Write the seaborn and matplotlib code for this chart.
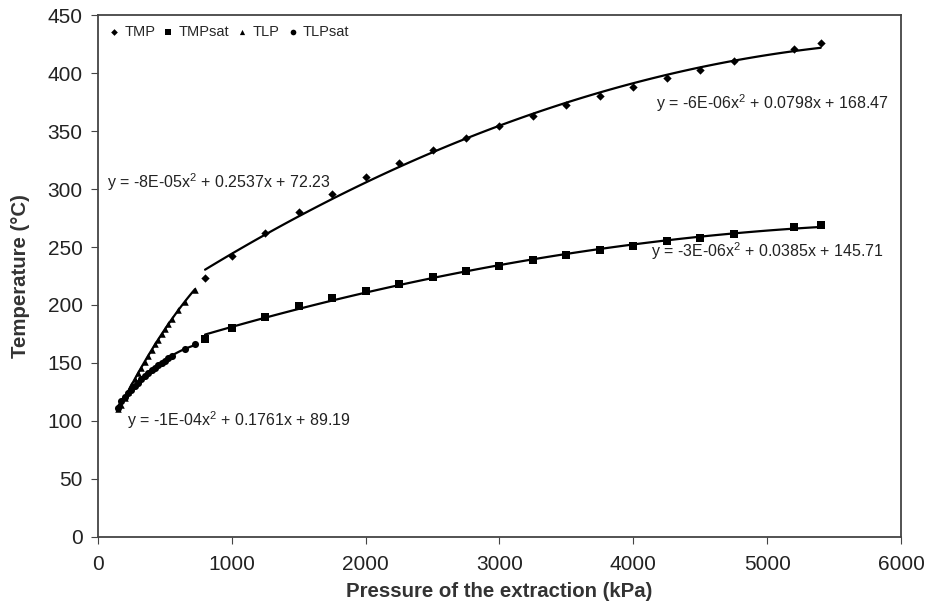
import numpy as np
import pandas as pd
import seaborn as sns
import matplotlib.pyplot as plt

# Data
tmp_p = [800, 1000, 1250, 1500, 1750, 2000, 2250, 2500, 2750, 3000, 3250, 3500,
         3750, 4000, 4250, 4500, 4750, 5200, 5400]
tmp_t = [223, 242, 262, 280, 296, 310, 322, 334, 344, 354, 363, 372,
         380, 388, 396, 403, 410, 421, 426]

tmpsat_p = [800, 1000, 1250, 1500, 1750, 2000, 2250, 2500, 2750, 3000, 3250, 3500,
            3750, 4000, 4250, 4500, 4750, 5200, 5400]
tmpsat_t = [171, 180, 190, 199, 206, 212, 218, 224, 229, 234, 239, 243,
            247, 251, 255, 258, 261, 267, 269]

tlp_p = [150, 175, 200, 225, 250, 275, 300, 325, 350, 375, 400, 425, 450, 475,
         500, 525, 550, 600, 650, 725]
tlp_t = [110, 114, 120, 125, 131, 136, 141, 146, 151, 156, 161, 166, 170, 175,
         179, 184, 188, 196, 203, 213]

tlpsat_p = [150, 175, 200, 225, 250, 275, 300, 325, 350, 375, 400, 425, 450, 475,
            500, 525, 550, 650, 725]
tlpsat_t = [111, 117, 121, 124, 127, 130, 133, 136, 139, 141, 144, 146, 148, 150,
            152, 154, 156, 162, 166]

equations = [
    (r'y = -8E-05x$^2$ + 0.2537x + 72.23', 70, 306),
    (r'y = -6E-06x$^2$ + 0.0798x + 168.47', 4170, 374),
    (r'y = -3E-06x$^2$ + 0.0385x + 145.71', 4133, 246),
    (r'y = -1E-04x$^2$ + 0.1761x + 89.19', 220, 101),
]

sns.set_style('ticks')
plt.rcParams['font.family'] = ['Liberation Sans', 'DejaVu Sans']
plt.rcParams['mathtext.fontset'] = 'custom'
plt.rcParams['mathtext.rm'] = 'Liberation Sans'
plt.rcParams['mathtext.it'] = 'Liberation Sans'

fig = plt.figure(figsize=(9.26, 6.06), dpi=100)
ax = fig.add_axes([0.1058, 0.1139, 0.8672, 0.8613])

series = [
    ('TMP', tmp_p, tmp_t, 'D', 18),
    ('TMPsat', tmpsat_p, tmpsat_t, 's', 32),
    ('TLP', tlp_p, tlp_t, '^', 22),
    ('TLPsat', tlpsat_p, tlpsat_t, 'o', 26),
]

for name, p, t, m, s in series:
    sns.scatterplot(x=p, y=t, marker=m, s=s, color='black', edgecolor='black',
                    linewidth=0, label=name, ax=ax, zorder=3)
    # second order trend line, like the Excel one
    sns.regplot(x=np.array(p), y=np.array(t), order=2, ci=None, scatter=False,
                truncate=True, line_kws=dict(color='black', lw=1.6), ax=ax)

for txt, x, y in equations:
    ax.text(x, y, txt, fontsize=11.5, ha='left', va='center', color='#222222')

ax.set_xlim(0, 6000)
ax.set_ylim(0, 450)
ax.set_xticks(range(0, 6001, 1000))
ax.set_yticks(range(0, 451, 50))
ax.tick_params(axis='both', labelsize=15, direction='out', length=5,
               color='#444444', labelcolor='#222222')
ax.tick_params(axis='x', pad=8)
ax.tick_params(axis='y', pad=6)
for sp in ax.spines.values():
    sp.set_visible(True)
    sp.set_color('#444444')
    sp.set_linewidth(1.3)

ax.set_xlabel('Pressure of the extraction (kPa)', fontsize=14.7, fontweight='bold',
              color='#333333', labelpad=6)
ax.set_ylabel('Temperature (°C)', fontsize=14.7, fontweight='bold',
              color='#333333', labelpad=13)

leg = ax.legend(loc='upper left', ncol=4, frameon=False, fontsize=10.5,
                handlelength=0.8, handletextpad=0.3, columnspacing=0.5,
                markerscale=0.8, borderaxespad=0.3, bbox_to_anchor=(0.0, 1.0))

fig.savefig('out.png', dpi=100)
